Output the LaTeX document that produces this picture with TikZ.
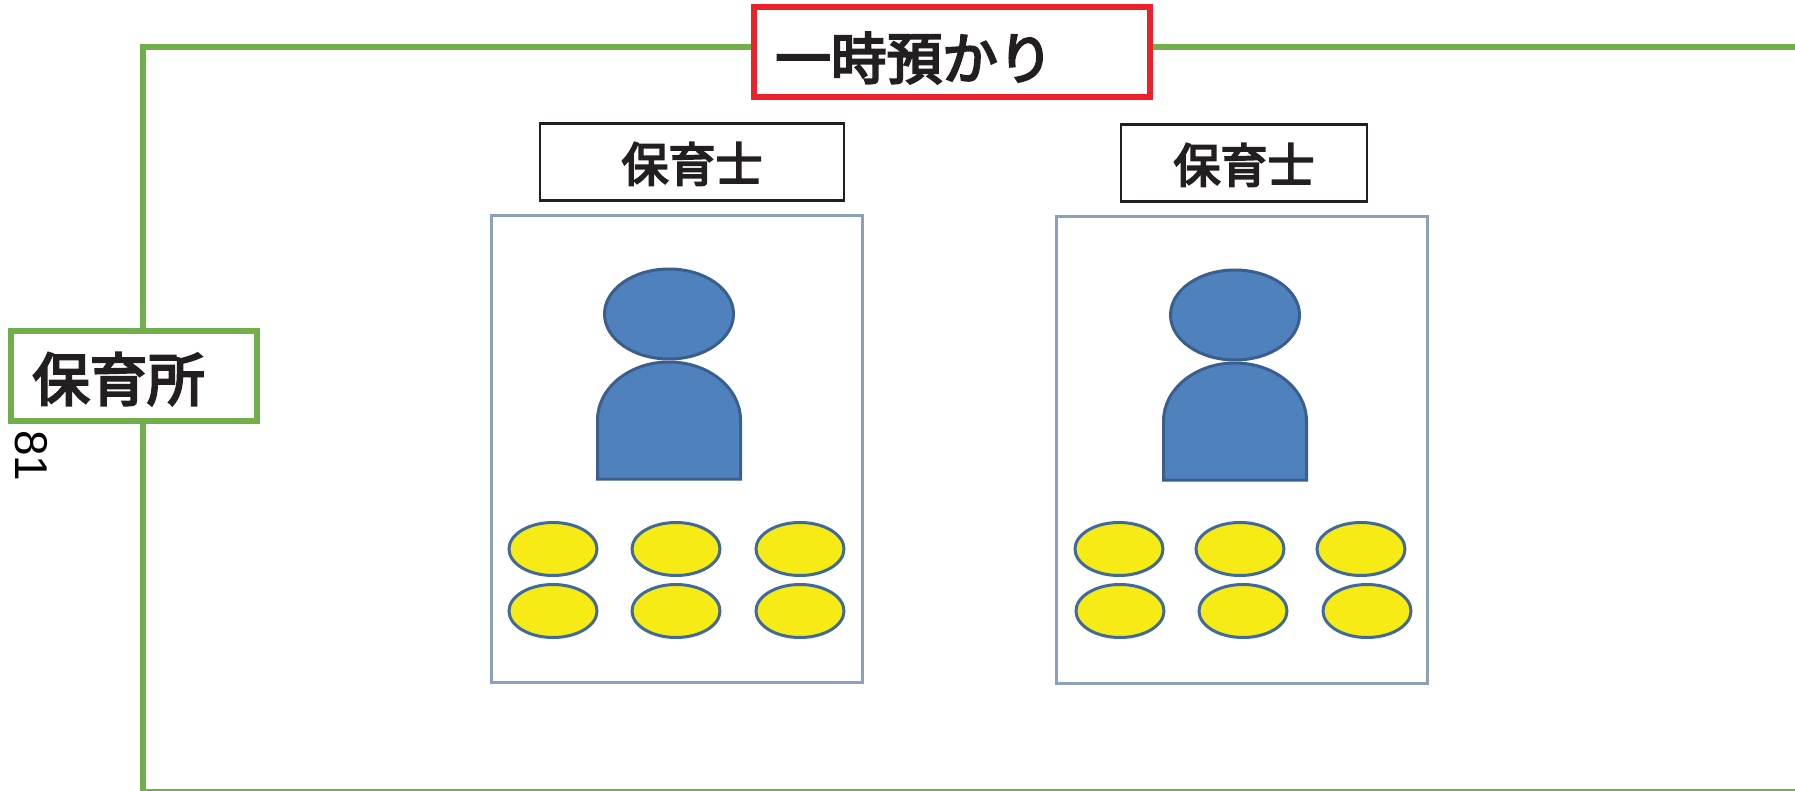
\documentclass[tikz,border=0pt]{standalone}
\usepackage{fontspec}
\setmainfont{Liberation Sans}
\newfontfamily\jpfont[FakeBold=4]{Noto Sans CJK JP}
\usepackage{tikz}
\usetikzlibrary{shapes.geometric}
\definecolor{framegreen}{HTML}{72AF4A}
\definecolor{tagred}{HTML}{ED2129}
\definecolor{panelblue}{HTML}{8AA0BD}
\definecolor{personfill}{HTML}{4F81BD}
\definecolor{personline}{HTML}{3A5F8E}
\definecolor{childfill}{HTML}{F6EB14}
\definecolor{childline}{HTML}{41699A}
\definecolor{inkblack}{HTML}{231F20}

\begin{document}
\begin{tikzpicture}[
     x=0.5pt, y=-0.5pt,
     mytag/.style={rectangle, fill=white, inner sep=0pt, text=inkblack, font=\jpfont},
     mypanel/.style={rectangle, draw=panelblue, line width=1.5pt, inner sep=0pt, minimum width=185.5pt, minimum height=233pt},
     myhead/.style={ellipse, draw=personline, fill=personfill, line width=1.5pt, inner sep=0pt, minimum width=64.5pt, minimum height=45pt},
     mychild/.style={ellipse, draw=childline, fill=childfill, line width=1.5pt, inner sep=0pt, minimum width=44pt, minimum height=26.5pt}
 ]
 \useasboundingbox (0,0) rectangle (1795,791);

 % outer frame, runs off the page on the right
 \coordinate (frameTL) at (143,47);
 \coordinate (frameTR) at (1795,47);
 \coordinate (frameBL) at (143,792);
 \coordinate (frameBR) at (1795,792);
 \draw[framegreen, line width=3pt] (frameTR) -- (frameTL) -- (frameBL) -- (frameBR);

 \node[mytag, draw=framegreen, line width=3pt, minimum width=123pt, minimum height=45pt] (place) at (133.5,376) {};
 \node[mytag, anchor=west, font=\jpfont\fontsize{28.7}{28.7}\selectfont] (placetext) at (32,379) {保育所};
 \node[rotate=-90, inner sep=0pt, text=black, font=\fontsize{23}{23}\selectfont] (pagenum) at (31,456) {81};

 \node[mytag, draw=tagred, line width=3.2pt, minimum width=198pt, minimum height=45pt] (temp) at (952,52) {};
 \node[mytag, anchor=west, font=\jpfont\fontsize{27.8}{27.8}\selectfont] (temptext) at (775,58) {一時預かり};

 % the two rooms
 \foreach \x/\y/\tagx/\tagw/\headx/\room in {676.5/449/692/152/669/1, 1241.5/450/1244/123/1235/2} {
     \node[mypanel] (panel\room) at (\x,\y) {};
     \node[mytag, draw=inkblack, line width=1.1pt, minimum width=\tagw pt, minimum height=38.5pt, font=\jpfont\fontsize{23.5}{23.5}\selectfont, text depth=-1.75pt] (teacher\room) at (\tagx,\y-287) {保育士};
     \node[myhead] (head\room) at (\headx,\y-135) {};
     \draw[personline, fill=personfill, line width=1.5pt] (\headx-71.5,\y+30) -- (\headx-71.5,\y-29) arc[start angle=180, end angle=360, x radius=71.5, y radius=58] -- (\headx+71.5,\y+30) -- cycle;
 }

 % children
 \foreach \x/\y [count=\c] in {553/549, 676/549, 800/549, 553/611, 676/611, 800/611, 1119/549, 1240/549, 1361/549, 1120/611, 1243/611, 1367/611} {
     \node[mychild] (child\c) at (\x,\y) {};
 }
\end{tikzpicture}
\end{document}
